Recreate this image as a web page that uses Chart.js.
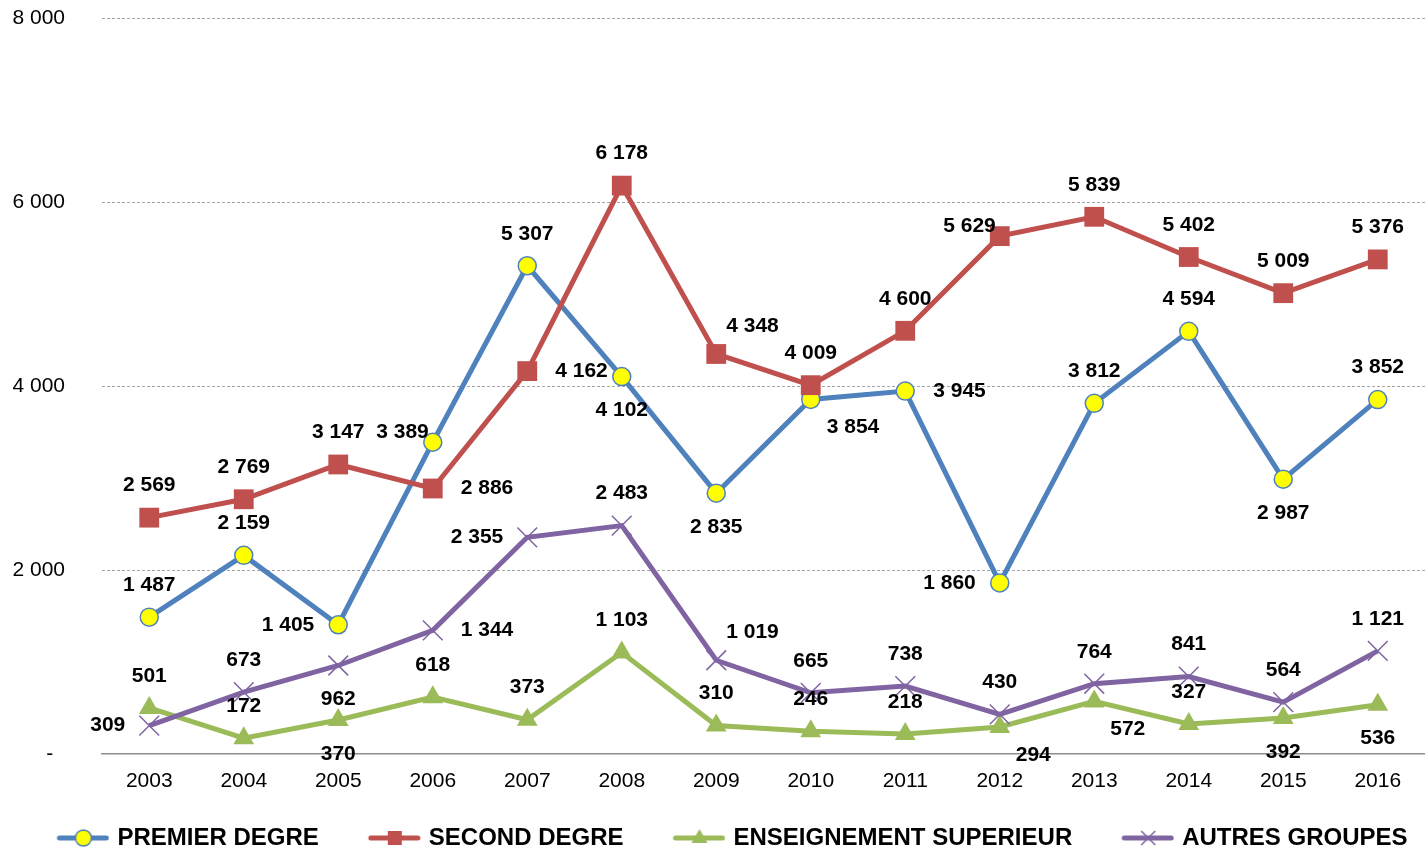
<!DOCTYPE html>
<html>
<head>
<meta charset="utf-8">
<script src="https://cdn.jsdelivr.net/npm/chart.js@4.4.1/dist/chart.umd.min.js"></script>
<style>
  html, body { margin: 0; padding: 0; overflow: hidden; background: #fff; }
  #wrap { width: 1425px; height: 860px; }
</style>
</head>
<body>
<div id="wrap"><canvas id="chart" width="1425" height="860"></canvas></div>
<script>
const years = ['2003', '2004', '2005', '2006', '2007', '2008', '2009', '2010', '2011', '2012', '2013', '2014', '2015', '2016'];
const premierDegre = [1487, 2159, 1405, 3389, 5307, 4102, 2835, 3854, 3945, 1860, 3812, 4594, 2987, 3852];
const secondDegre = [2569, 2769, 3147, 2886, 4162, 6178, 4348, 4009, 4600, 5629, 5839, 5402, 5009, 5376];
const enseignementSup = [501, 172, 370, 618, 373, 1103, 310, 246, 218, 294, 572, 327, 392, 536];
const autresGroupes = [309, 673, 962, 1344, 2355, 2483, 1019, 665, 738, 430, 764, 841, 564, 1121];
const yTicks = [0, 2000, 4000, 6000, 8000];

// where each value label sits relative to its point (T, B, L, R, TL, TR, BR)
const posPremier = ['T', 'T', 'L', 'TL', 'T', 'B', 'B', 'BR', 'R', 'L', 'T', 'T', 'B', 'T'];
const posSecond = ['T', 'T', 'T', 'R', 'R', 'T', 'TR', 'T', 'T', 'TL', 'T', 'T', 'T', 'T'];
const posSup = ['T', 'T', 'B', 'T', 'T', 'T', 'T', 'T', 'T', 'BR', 'BR', 'T', 'B', 'B'];
const posAutres = ['L', 'T', 'B', 'R', 'L', 'T', 'TR', 'T', 'T', 'T', 'T', 'T', 'T', 'T'];

const BLUE = '#4F81BD', RED = '#C0504D', GREEN = '#9BBB59', PURPLE = '#8064A2', YELLOW = '#FFFF00';
const FONT = "'Liberation Sans', Arial, sans-serif";

function fmt(v) {
	return String(v).replace(/\B(?=(\d{3})+(?!\d))/g, ' ');
}

function makeIcon(color, kind) {
	const c = document.createElement('canvas');
	c.width = 96;
	c.height = 24;
	const g = c.getContext('2d');
	g.strokeStyle = color;
	g.lineWidth = 5;
	g.lineCap = 'round';
	g.beginPath();
	g.moveTo(46, 12);
	g.lineTo(93, 12);
	g.stroke();
	const cx = 70, cy = 12;
	g.lineCap = 'butt';
	if (kind === 'circle') {
		g.beginPath();
		g.arc(cx, cy, 8, 0, Math.PI * 2);
		g.fillStyle = YELLOW;
		g.fill();
		g.lineWidth = 1.5;
		g.stroke();
	} else if (kind === 'rect') {
		g.fillStyle = color;
		g.fillRect(cx - 7, cy - 7, 14, 14);
	} else if (kind === 'triangle') {
		g.fillStyle = color;
		g.beginPath();
		g.moveTo(cx, cy - 9);
		g.lineTo(cx + 8, cy + 5);
		g.lineTo(cx - 8, cy + 5);
		g.closePath();
		g.fill();
	} else {
		g.lineWidth = 1.5;
		g.beginPath();
		g.moveTo(cx - 7, cy - 7); g.lineTo(cx + 7, cy + 7);
		g.moveTo(cx + 7, cy - 7); g.lineTo(cx - 7, cy + 7);
		g.stroke();
	}
	return c;
}

const legendIcons = [
	makeIcon(BLUE, 'circle'),
	makeIcon(RED, 'rect'),
	makeIcon(GREEN, 'triangle'),
	makeIcon(PURPLE, 'cross')
];

const labelPositions = [posPremier, posSecond, posSup, posAutres];

const valueLabels = {
	id: 'valueLabels',
	afterDatasetsDraw(chart) {
		const ctx = chart.ctx;
		ctx.save();
		ctx.font = 'bold 21px ' + FONT;
		ctx.fillStyle = '#000';
		ctx.textBaseline = 'middle';
		chart.data.datasets.forEach((ds, di) => {
			const meta = chart.getDatasetMeta(di);
			meta.data.forEach((pt, i) => {
				const text = fmt(ds.data[i]);
				let dx = 0, dy = 0, align = 'center';
				switch (labelPositions[di][i]) {
					case 'T': dy = -32; break;
					case 'B': dy = 34; break;
					case 'L': align = 'right'; dx = -24; break;
					case 'R': align = 'left'; dx = 28; break;
					case 'TL': align = 'right'; dx = -4; dy = -10; break;
					case 'TR': align = 'left'; dx = 10; dy = -28; break;
					case 'BR': align = 'left'; dx = 16; dy = 28; break;
				}
				ctx.textAlign = align;
				ctx.fillText(text, pt.x + dx, pt.y + dy);
			});
		});
		ctx.restore();
	}
};

const ctx = document.getElementById('chart').getContext('2d');
new Chart(ctx, {
	type: 'line',
	data: {
		labels: years,
		datasets: [{
			label: 'PREMIER DEGRE',
			data: premierDegre,
			borderColor: BLUE,
			backgroundColor: BLUE,
			borderWidth: 5,
			pointStyle: 'circle',
			pointRadius: 9,
			pointBackgroundColor: YELLOW,
			pointBorderColor: BLUE,
			pointBorderWidth: 1.5,
			order: 4
		}, {
			label: 'SECOND DEGRE',
			data: secondDegre,
			borderColor: RED,
			backgroundColor: RED,
			borderWidth: 5,
			pointStyle: 'rect',
			pointRadius: 14,
			pointBackgroundColor: RED,
			pointBorderColor: RED,
			pointBorderWidth: 0,
			order: 3
		}, {
			label: 'ENSEIGNEMENT SUPERIEUR',
			data: enseignementSup,
			borderColor: GREEN,
			backgroundColor: GREEN,
			borderWidth: 5,
			pointStyle: 'triangle',
			pointRadius: 12,
			pointBackgroundColor: GREEN,
			pointBorderColor: GREEN,
			pointBorderWidth: 0,
			order: 2
		}, {
			label: 'AUTRES GROUPES',
			data: autresGroupes,
			borderColor: PURPLE,
			backgroundColor: PURPLE,
			borderWidth: 5,
			pointStyle: 'crossRot',
			pointRadius: 14,
			pointBorderColor: PURPLE,
			pointBorderWidth: 1.5,
			order: 1
		}]
	},
	options: {
		responsive: false,
		animation: false,
		layout: { autoPadding: false, padding: { top: 18, left: 0, right: 0, bottom: 0 } },
		elements: { line: { tension: 0 } },
		scales: {
			x: {
				offset: true,
				grid: { display: false, drawTicks: false, offset: true },
				border: { display: true, color: '#8c8c8c', width: 1.5 },
				ticks: { color: '#000', font: { family: FONT, size: 21 }, padding: 15 },
				afterFit(scale) { scale.height = 62; }
			},
			y: {
				min: 0,
				max: 8000,
				afterBuildTicks(scale) { scale.ticks = yTicks.map(v => ({ value: v })); },
				grid: {
					drawTicks: false,
					color: c => (c.tick && c.tick.value === 0) ? 'rgba(0,0,0,0)' : '#a6a6a6',
					lineWidth: 1
				},
				border: { display: false, dash: [3, 2] },
				ticks: {
					color: '#000',
					font: { family: FONT, size: 21 },
					padding: 37,
					callback: v => v === 0 ? '-  ' : fmt(v)
				},
				afterFit(scale) {
					scale.width = 102;
					// the big label gap should not push the plot down
					scale.paddingTop = 12;
					scale.paddingBottom = 12;
				}
			}
		},
		plugins: {
			tooltip: { enabled: false },
			legend: {
				position: 'bottom',
				labels: {
					usePointStyle: true,
					pointStyleWidth: 88,
					padding: 10,
					color: '#000',
					font: { family: FONT, size: 24, weight: 'bold' },
					sort: (a, b) => a.datasetIndex - b.datasetIndex,
					generateLabels(chart) {
						const items = Chart.defaults.plugins.legend.labels.generateLabels(chart);
						items.forEach(it => { it.pointStyle = legendIcons[it.datasetIndex]; });
						return items;
					}
				}
			}
		}
	},
	plugins: [valueLabels]
});
</script>
</body>
</html>
